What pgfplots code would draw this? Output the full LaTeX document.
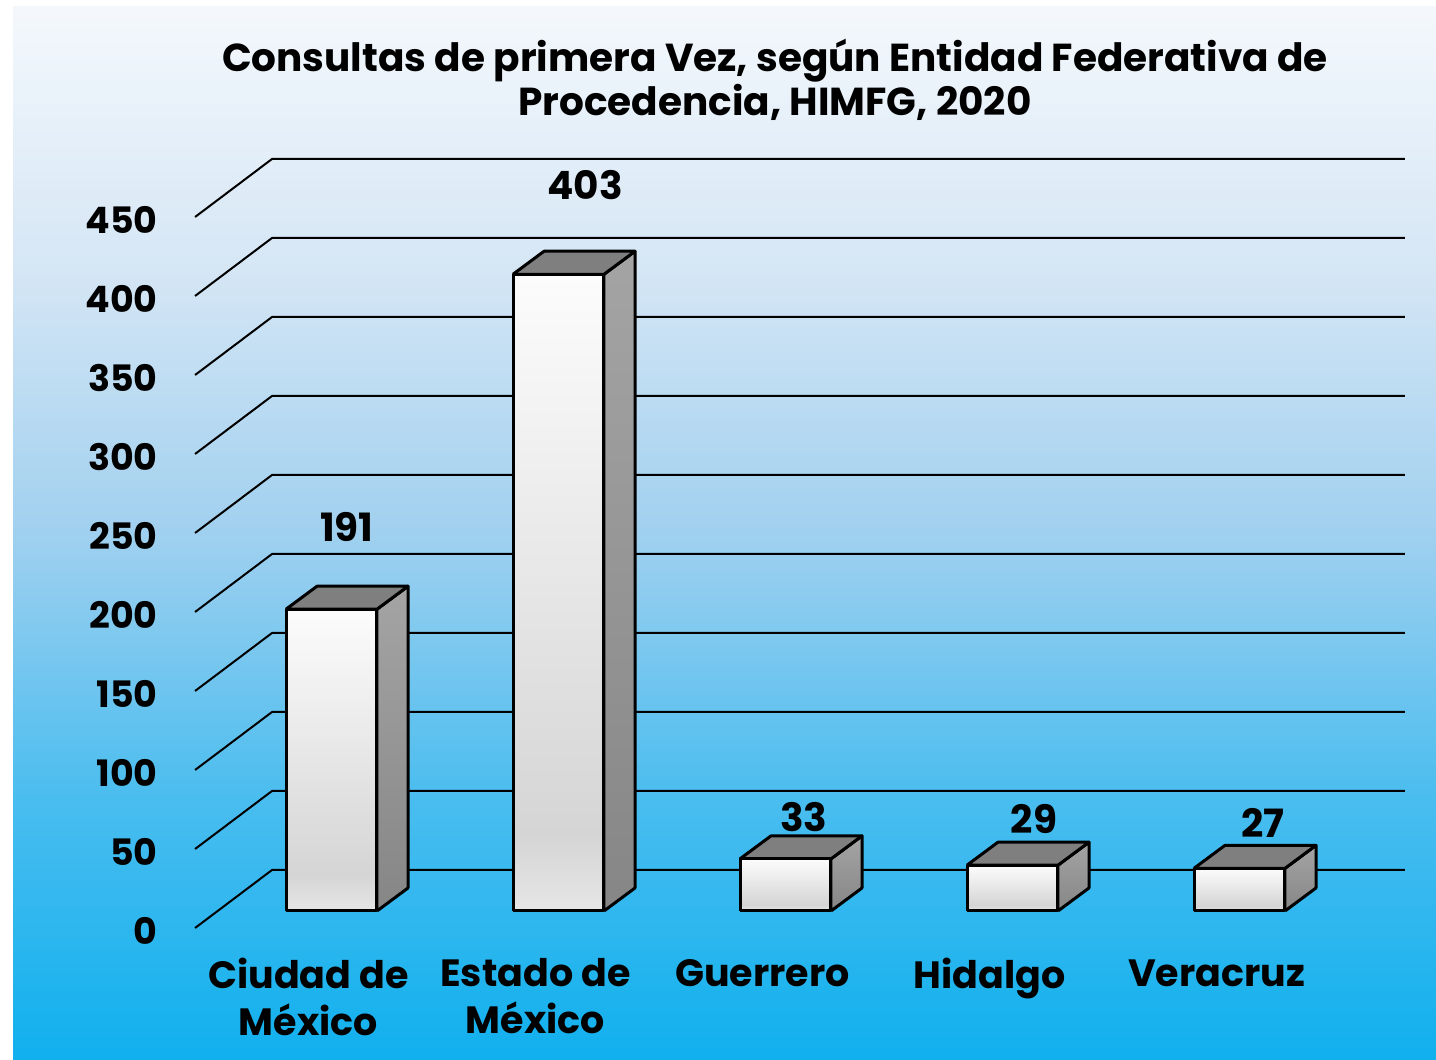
\documentclass[border=0pt]{standalone}
\usepackage{pgfplots}
\pgfplotsset{compat=1.18}
\usepackage{fontspec}
\setmainfont{Poppins}

% background gradient, bottom -> top
\definecolor{bgA}{HTML}{10B0EE}
\definecolor{bgB}{HTML}{4ABDEF}
\definecolor{bgC}{HTML}{A0D0EF}
\definecolor{bgD}{HTML}{D5E6F5}
\definecolor{bgE}{HTML}{F4F8FC}
% bar faces
\definecolor{frA}{HTML}{E6E6E6}
\definecolor{frB}{HTML}{D5D5D5}
\definecolor{frC}{HTML}{FCFCFC}
\definecolor{sdA}{HTML}{868686}
\definecolor{sdB}{HTML}{A4A4A4}
\definecolor{topgray}{HTML}{7F7F7F}

\pgfdeclareverticalshading{bgshade}{100bp}{color(0bp)=(bgA); color(25bp)=(bgA); color(37.5bp)=(bgB); color(50bp)=(bgC); color(62.5bp)=(bgD); color(75bp)=(bgE); color(100bp)=(bgE)}
\pgfdeclareverticalshading{barfront}{100bp}{color(0bp)=(frA); color(25bp)=(frA); color(31bp)=(frB); color(75bp)=(frC); color(100bp)=(frC)}
\pgfdeclareverticalshading{barside}{100bp}{color(0bp)=(sdA); color(25bp)=(sdA); color(75bp)=(sdB); color(100bp)=(sdB)}

\newcommand{\tickfont}{\fontsize{18.2}{23}\selectfont\bfseries}
\newcommand{\catfont}{\fontsize{19}{23.5}\selectfont\bfseries}
\newcommand{\valfont}{\fontsize{19.5}{23}\selectfont\bfseries}

% #1 category position, #2 value, #3 x offset and #4 height of the value label
\newcommand{\threedbar}[4]{%
  \pgfmathsetmacro{\tbxl}{#1-0.2004}%
  \pgfmathsetmacro{\tbxr}{#1+0.2004}%
  \pgfmathsetmacro{\tbxlb}{#1-0.2004+0.1366}%
  \pgfmathsetmacro{\tbxrb}{#1+0.2004+0.1366}%
  \pgfmathsetmacro{\tbvb}{#2+14.56}%
  \addplot[draw=black, line width=1.5pt, line join=round, shading=barside]
    coordinates {(\tbxr,0) (\tbxrb,14.56) (\tbxrb,\tbvb) (\tbxr,#2) (\tbxr,0)};
  \addplot[draw=black, line width=1.5pt, line join=round, fill=topgray]
    coordinates {(\tbxl,#2) (\tbxr,#2) (\tbxrb,\tbvb) (\tbxlb,\tbvb) (\tbxl,#2)};
  \addplot[draw=black, line width=1.5pt, line join=round, shading=barfront]
    coordinates {(\tbxl,0) (\tbxr,0) (\tbxr,#2) (\tbxl,#2) (\tbxl,0)};
  \node[font=\valfont, inner sep=0] at (axis cs:#1+#3,#4) {#2};
}

\begin{document}
\begin{tikzpicture}
\useasboundingbox (0,0) rectangle (718pt,530pt);
\fill[white] (0,0) rectangle (718pt,530pt);
\shade[shading=bgshade] (6.5pt,0) rectangle (718pt,526.5pt);

\node[align=center, anchor=north, inner sep=0,
      font=\fontsize{19.5}{22}\selectfont\bfseries] at (387.5pt,510.5pt)
  {Consultas de primera Vez, según Entidad Federativa de\\Procedencia, HIMFG, 2020};

\begin{axis}[
    at={(52.25pt,50.8pt)}, anchor=south west,
    scale only axis,
    width=658.3pt, height=402.9pt,
    xmin=-1, xmax=4.8,
    ymin=-30, ymax=480,
    axis line style={draw=none},
    major tick length=0pt,
    ytick=\empty,
    xtick={0,1,2,3,4},
    xticklabels={{\rule{0pt}{14pt}Ciudad de\\México},{\rule{0pt}{14pt}Estado de\\México},
                 \rule{0pt}{14pt}Guerrero,\rule{0pt}{14pt}Hidalgo,\rule{0pt}{14pt}Veracruz},
    xticklabel style={align=center, font=\catfont, inner sep=0,
                      anchor=north, xshift=-11.5pt, yshift=0.2pt},
    clip=false,
]
% back wall grid and left wall
\pgfplotsinvokeforeach{0,50,...,450}{
  \draw[line width=1pt] (axis cs:-0.601,{#1-10.76}) -- (axis cs:-0.262,{#1+25.95})
        -- (axis cs:4.729,{#1+25.95});
  \node[anchor=east, inner sep=0, font=\tickfont, xshift=-18.5pt, yshift=-1.5pt]
        at (axis cs:-0.601,{#1-10.76}) {#1};
}
\threedbar{0}{191}{0.068}{243}
\threedbar{1}{403}{0.117}{459.5}
\threedbar{2}{33}{0.081}{59.5}
\threedbar{3}{29}{0.095}{58.2}
\threedbar{4}{27}{0.104}{55.7}
\end{axis}
\end{tikzpicture}
\end{document}
